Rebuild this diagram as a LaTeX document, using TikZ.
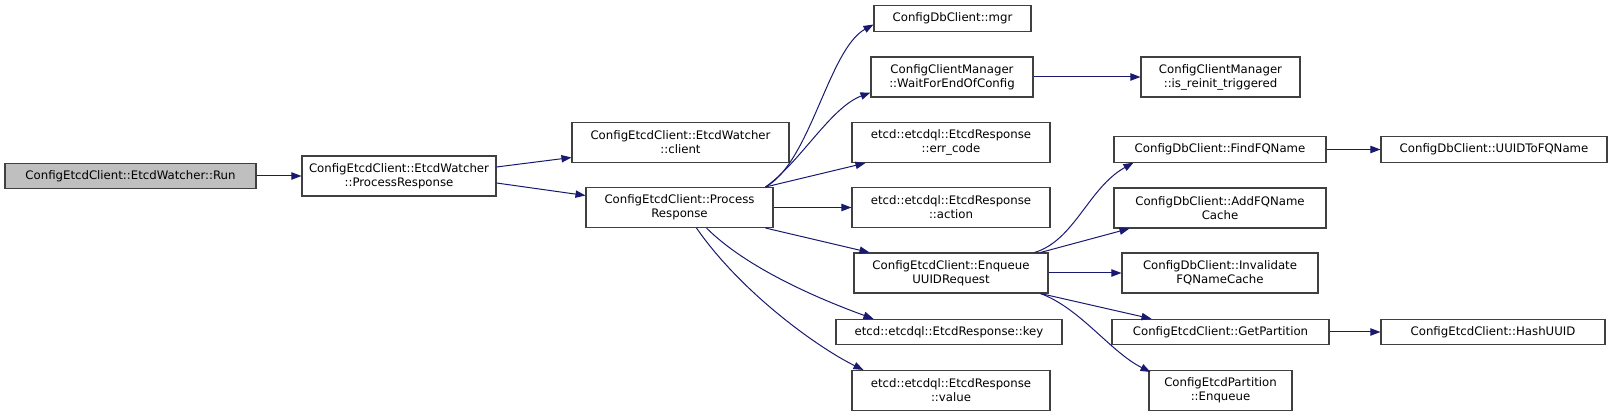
\documentclass[tikz,border=0pt]{standalone}
\usepackage{fontspec}
\setmainfont{DejaVu Sans}
\usetikzlibrary{arrows.meta,calc}
\definecolor{DoxNavy}{HTML}{191970}
\definecolor{DoxFrame}{HTML}{404040}
\definecolor{DoxRoot}{HTML}{BFBFBF}
\tikzset{
  fnbox/.style={draw=DoxFrame,line width=0.8pt,rectangle,inner sep=0pt,align=center,
    font=\fontsize{8.8}{10.6}\selectfont,minimum height=30pt},
  oneline/.style={minimum height=19pt},
  boxw/.style={minimum width=#1*0.75pt},
  call/.style={draw=DoxNavy,line width=0.75pt,-{Triangle[length=7.5pt,width=5.5pt]}}
}
\newcommand{\fnbox}[4]{%
  \node[fnbox,#1] (#2) at #3 {#4};
}

\begin{document}
\begin{tikzpicture}[x=0.75pt,y=-0.75pt]
  \useasboundingbox (0,0) rectangle (1616,416);

  % callers
  \fnbox{boxw=251,oneline,fill=DoxRoot}{run}{(130.5,176)}{ConfigEtcdClient::EtcdWatcher::Run}
  \fnbox{boxw=194}{watcher}{(399,176)}{ConfigEtcdClient::EtcdWatcher\\::ProcessResponse}
  \fnbox{boxw=217}{client}{(680.5,142.5)}{ConfigEtcdClient::EtcdWatcher\\::client}
  \fnbox{boxw=187}{procresp}{(679.5,207.5)}{ConfigEtcdClient::Process\\Response}

  % third column
  \fnbox{boxw=157,oneline}{mgr}{(952.5,18.5)}{ConfigDbClient::mgr}
  \fnbox{boxw=162}{waitcfg}{(952,77)}{ConfigClientManager\\::WaitForEndOfConfig}
  \fnbox{boxw=198}{errcode}{(951,142.5)}{etcd::etcdql::EtcdResponse\\::err\_code}
  \fnbox{boxw=198}{action}{(951,207.5)}{etcd::etcdql::EtcdResponse\\::action}
  \fnbox{boxw=194}{enqueue}{(951,273)}{ConfigEtcdClient::Enqueue\\UUIDRequest}
  \fnbox{boxw=226,oneline}{key}{(949,332)}{etcd::etcdql::EtcdResponse::key}
  \fnbox{boxw=198}{value}{(951,390.5)}{etcd::etcdql::EtcdResponse\\::value}

  % fourth and fifth column
  \fnbox{boxw=159}{reinit}{(1220.5,77)}{ConfigClientManager\\::is\_reinit\_triggered}
  \fnbox{boxw=212,oneline}{findfq}{(1220,149.5)}{ConfigDbClient::FindFQName}
  \fnbox{boxw=226,oneline}{uuidfq}{(1494,149.5)}{ConfigDbClient::UUIDToFQName}
  \fnbox{boxw=212}{addfq}{(1220,208)}{ConfigDbClient::AddFQName\\Cache}
  \fnbox{boxw=196}{invalidate}{(1220,273)}{ConfigDbClient::Invalidate\\FQNameCache}
  \fnbox{boxw=217,oneline}{getpart}{(1220.5,332)}{ConfigEtcdClient::GetPartition}
  \fnbox{boxw=224,oneline}{hashuuid}{(1493,332)}{ConfigEtcdClient::HashUUID}
  \fnbox{boxw=143}{partenq}{(1220.5,390.5)}{ConfigEtcdPartition\\::Enqueue}

  % calls
  \draw[call] (run) -- (watcher);
  \draw[call] ($(watcher.east)+(0,-9)$) -- ($(client.west)+(0,15)$);
  \draw[call] ($(watcher.east)+(0,7)$) -- ($(procresp.west)+(0,-12)$);

  \draw[call] ($(procresp.north east)+(-8,0)$) .. controls +(45,-25) and +(-45,25) .. ($(mgr.west)+(0,6)$);
  \draw[call] ($(procresp.north east)+(-8,0)$) .. controls +(35,-25) and +(-40,15) .. ($(waitcfg.south west)+(0,-5)$);
  \draw[call] ($(procresp.north east)+(-8,0)$) -- ($(errcode.south west)+(14,0)$);
  \draw[call] (procresp.east) -- (action.west);
  \draw[call] ($(procresp.south east)+(-8,0)$) -- ($(enqueue.north west)+(16,0)$);
  \draw[call] ($(procresp.south)+(27,0)$) .. controls +(40,40) and +(-55,-20) .. ($(key.north west)+(38,0)$);
  \draw[call] ($(procresp.south)+(17,0)$) .. controls +(45,65) and +(-45,-22) .. ($(value.north west)+(12,0)$);

  \draw[call] (waitcfg) -- (reinit);

  \draw[call] ($(enqueue.north east)+(-14,0)$) .. controls +(40,-12) and +(-45,25) .. ($(findfq.south west)+(20,0)$);
  \draw[call] ($(enqueue.north east)+(-8,0)$) -- ($(addfq.south west)+(16,0)$);
  \draw[call] (enqueue) -- (invalidate);
  \draw[call] ($(enqueue.south east)+(-8,0)$) -- ($(getpart.north west)+(40,0)$);
  \draw[call] ($(enqueue.south east)+(-8,0)$) .. controls +(40,15) and +(-40,-20) .. ($(partenq.north west)+(2,2)$);

  \draw[call] (findfq) -- (uuidfq);
  \draw[call] (getpart) -- (hashuuid);
\end{tikzpicture}
\end{document}
